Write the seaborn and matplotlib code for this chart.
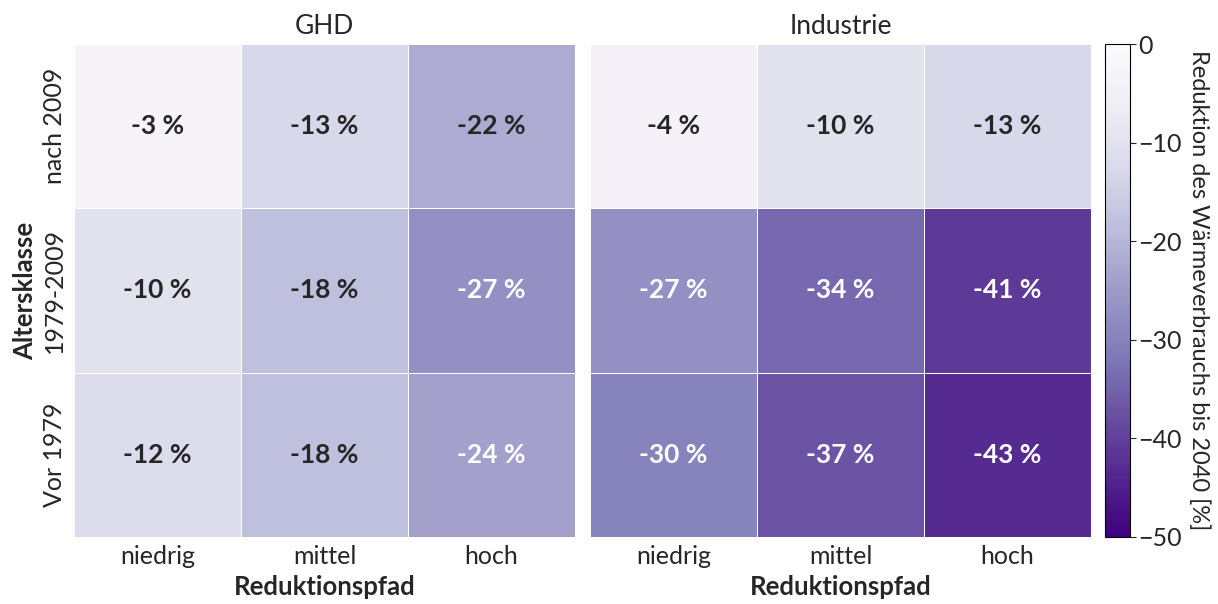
import numpy as np
import pandas as pd
import matplotlib
matplotlib.use("Agg")
import matplotlib.pyplot as plt
import seaborn as sns

sns.set_style("white")
plt.rcParams["font.family"] = ["Lato", "DejaVu Sans"]

# Age classes (rows) and reduction paths (columns)
altersklassen = ["nach 2009", "1979-2009", "Vor 1979"]
pfade = ["niedrig", "mittel", "hoch"]

# Reduction of heat demand until 2040 in percent
ghd_werte = [[-3, -13, -22],
             [-10, -18, -27],
             [-12, -18, -24]]
industrie_werte = [[-4, -10, -13],
                   [-27, -34, -41],
                   [-30, -37, -43]]

sektoren = ["GHD", "Industrie"]
daten = [ghd_werte, industrie_werte]

fig = plt.figure(figsize=(12.18, 6.04), dpi=100)
W, H = 1218, 604
ax1 = fig.add_axes([74 / W, 1 - 537 / H, 501 / W, 493 / H])
ax2 = fig.add_axes([590 / W, 1 - 537 / H, 501 / W, 493 / H])
cax = fig.add_axes([1105 / W, 1 - 537 / H, 25 / W, 493 / H])

for i, (ax, name, werte) in enumerate(zip([ax1, ax2], sektoren, daten)):
    df = pd.DataFrame(werte, index=altersklassen, columns=pfade)
    labels = np.array([[f"{v} %" for v in row] for row in werte])
    sns.heatmap(
        df, ax=ax, cmap="Purples_r", vmin=-50, vmax=0,
        annot=labels, fmt="", linewidths=0.6, linecolor="white",
        annot_kws={"fontsize": 19, "fontweight": "bold"},
        cbar=(i == 1), cbar_ax=cax if i == 1 else None,
    )
    ax.set_title(name, fontsize=19, pad=7)
    ax.set_xlabel("Reduktionspfad", fontsize=18.5, fontweight="bold", labelpad=5)
    ax.tick_params(axis="x", labelsize=18, length=3, width=0.8, color="#333333", pad=3)
    ax.tick_params(axis="y", labelsize=18, length=3, width=0.8, color="#333333", pad=3)
    if i == 0:
        ax.set_ylabel("Altersklasse", fontsize=18.5, fontweight="bold", labelpad=4)
        ax.set_yticklabels(altersklassen, rotation=90, va="center")
    else:
        ax.set_ylabel("")
        ax.set_yticklabels([])

cbar = ax2.collections[0].colorbar
cbar.set_ticks([0, -10, -20, -30, -40, -50])
cbar.ax.tick_params(labelsize=18, length=4, pad=2)
cbar.outline.set_visible(True)
cbar.outline.set_edgecolor("black")
cbar.outline.set_linewidth(0.8)
cbar.set_label("Reduktion des Wärmeverbrauchs bis 2040 [%]", fontsize=17,
               rotation=270, labelpad=20)

fig.savefig("out.png", dpi=100)
